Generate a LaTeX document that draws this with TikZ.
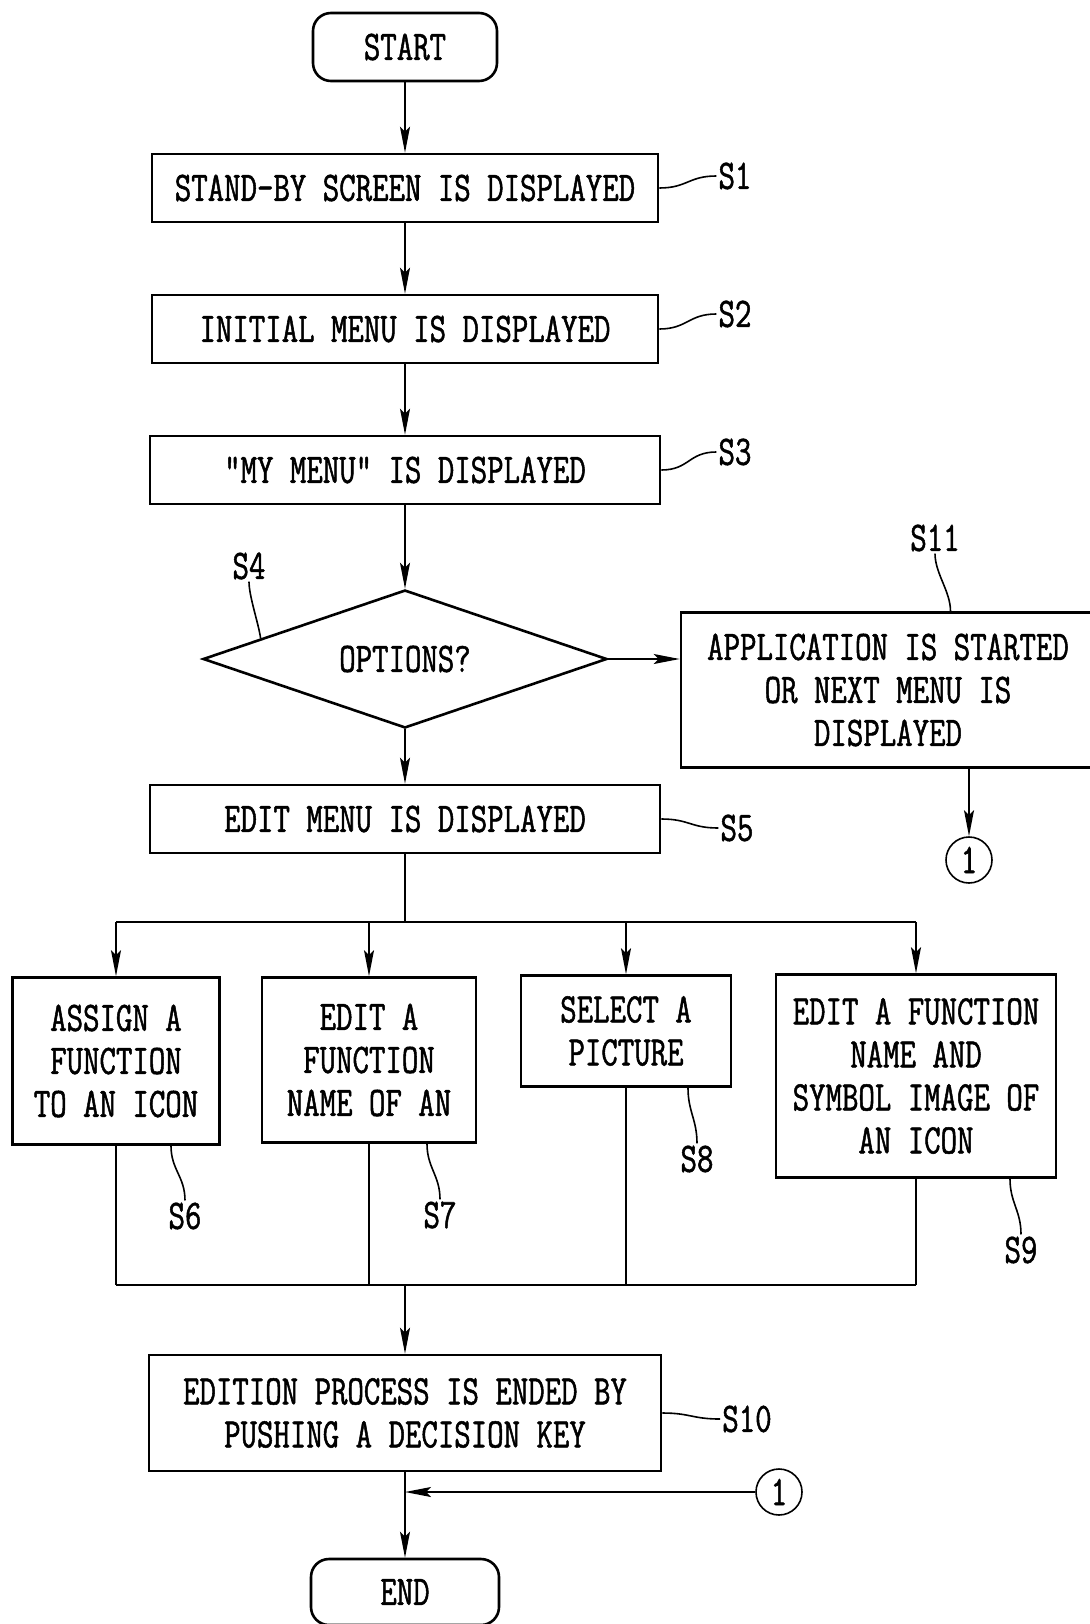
\documentclass[tikz,border=0pt]{standalone}
\usepackage{fontspec}
\newfontfamily\patfont[FakeStretch=0.76,FakeBold=1.2]{Latin Modern Mono}
\usetikzlibrary{shapes,arrows.meta,positioning,calc}

\begin{document}
\begin{tikzpicture}[x=1pt,y=-1pt,
    font={\patfont\fontsize{42}{43}\selectfont},
    block/.style={draw,line width=2.6pt,align=center,inner sep=0pt},
    term/.style={block,rounded corners=18pt},
    arr/.style={line width=1.8pt,-{Stealth[length=26pt,width=10pt,inset=5pt]}},
    wire/.style={line width=1.8pt},
    lead/.style={line width=1.6pt},
    tag/.style={inner sep=2pt}]
    \useasboundingbox (0,0) rectangle (1089,1624);

    % Main column
    \node[term,minimum width=184pt,minimum height=68pt] (start) at (405,47) {START};
    \node[block,minimum width=506pt,minimum height=68pt] (s1) at (405,188) {STAND-BY SCREEN IS DISPLAYED};
    \node[block,minimum width=506pt,minimum height=68pt] (s2) at (405,329) {INITIAL MENU IS DISPLAYED};
    \node[block,minimum width=510pt,minimum height=68pt] (s3) at (405,470) {"MY MENU" IS DISPLAYED};
    \node[draw,diamond,line width=2.6pt,aspect=2.9,minimum width=404pt,minimum height=138pt,inner sep=0pt] (s4) at (405,659) {OPTIONS?};
    \node[block,minimum width=510pt,minimum height=68pt] (s5) at (405,819) {EDIT MENU IS DISPLAYED};

    % Other branch
    \node[block,minimum width=414pt,minimum height=155pt] (s11) at (888,690) {APPLICATION IS STARTED\\OR NEXT MENU IS\\DISPLAYED};
    \node[draw,circle,line width=1.6pt,minimum size=46pt,inner sep=0pt] (c1) at (969,860) {1};

    % Edit steps
    \node[block,minimum width=207pt,minimum height=167pt] (s6) at (116,1061) {ASSIGN A\\FUNCTION\\TO AN ICON};
    \node[block,minimum width=214pt,minimum height=165pt] (s7) at (369,1060) {EDIT A\\FUNCTION\\NAME OF AN};
    \node[block,minimum width=210pt,minimum height=111pt] (s8) at (626,1031) {SELECT A\\PICTURE};
    \node[block,minimum width=280pt,minimum height=203pt] (s9) at (916,1076) {EDIT A FUNCTION\\NAME AND\\SYMBOL IMAGE OF\\AN ICON};

    % End
    \node[block,minimum width=512pt,minimum height=116pt] (s10) at (405,1413) {EDITION PROCESS IS ENDED BY\\PUSHING A DECISION KEY};
    \node[draw,circle,line width=1.6pt,minimum size=46pt,inner sep=0pt] (c2) at (779,1492) {1};
    \node[term,minimum width=188pt,minimum height=66pt] (finish) at (405,1592) {END};

    % Step labels
    \node[tag] (l1) at (735,176) {S1};
    \node[tag] (l2) at (735,314) {S2};
    \node[tag] (l3) at (735,452) {S3};
    \node[tag] (l4) at (249,566) {S4};
    \node[tag] (l5) at (737,828) {S5};
    \node[tag] (l6) at (185,1216) {S6};
    \node[tag] (l7) at (440,1215) {S7};
    \node[tag] (l8) at (697,1159) {S8};
    \node[tag] (l9) at (1021,1250) {S9};
    \node[tag] (l10) at (747,1419) {S10};
    \node[tag] (l11) at (935,538) {S11};

    % Flow
    \draw[arr] (start) -- (s1);
    \draw[arr] (s1) -- (s2);
    \draw[arr] (s2) -- (s3);
    \draw[arr] (s3) -- (s4);
    \draw[arr] (s4) -- (s5);
    \draw[arr] (s4.east) -- (s4.east -| s11.west);
    \draw[arr] (s11.south -| c1) -- (c1);

    \coordinate (split) at (405,922);
    \coordinate (join) at (405,1285);
    \draw[wire] (s5) -- (split);
    \draw[wire] (s6.north |- split) -- (s9.north |- split);
    \foreach \n in {s6,s7,s8,s9} {
        \draw[arr] (\n.north |- split) -- (\n.north);
        \draw[wire] (\n.south) -- (\n.south |- join);
    }
    \draw[wire] (s6.south |- join) -- (s9.south |- join);
    \draw[arr] (join) -- (s10);
    \draw[arr] (s10) -- (finish);
    \draw[arr] (c2) -- (c2 -| s10);

    % Leaders
    \foreach \n in {1,2,3,5,10}
        \draw[lead] (s\n.east) .. controls +(28,0) and +(-28,0) .. (l\n.west);
    \draw[lead] (l4.south) .. controls +(0,15) and +(-2,-15) .. ($(s4.west)!0.29!(s4.north)$);
    \draw[lead] (l11.south) .. controls +(0,20) and +(0,-20) .. ($(s11.north west)!0.65!(s11.north east)$);
    \draw[lead] ($(s6.south)+(55,0)$) .. controls +(0,24) and +(0,-24) .. (l6.north);
    \draw[lead] ($(s7.south)+(58,0)$) .. controls +(0,24) and +(0,-24) .. (l7.north);
    \draw[lead] ($(s8.south)+(62,0)$) .. controls +(0,24) and +(0,-24) .. (l8.north);
    \draw[lead] ($(s9.south)+(94,0)$) .. controls +(0,24) and +(0,-24) .. (l9.north);
\end{tikzpicture}
\end{document}
